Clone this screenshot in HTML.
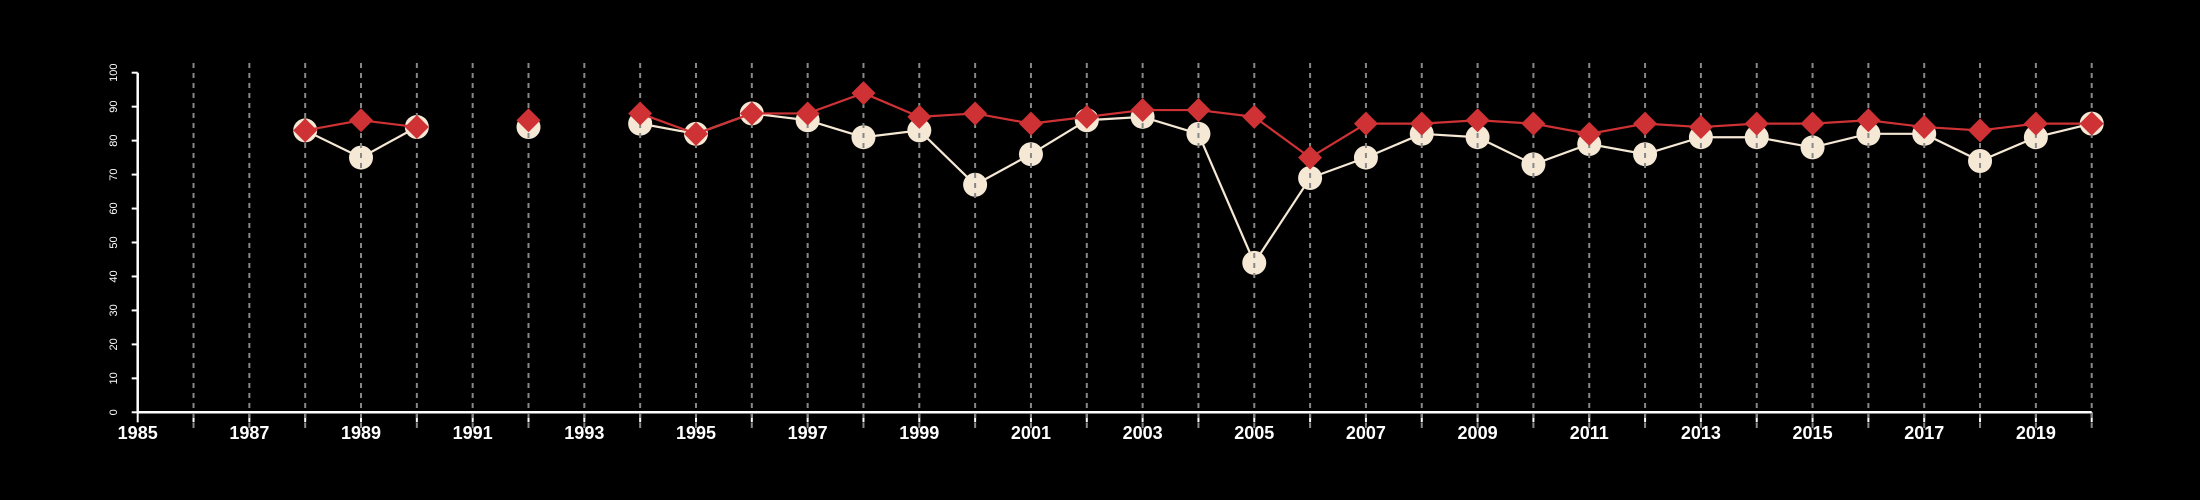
<!DOCTYPE html>
<html><head><meta charset="utf-8"><style>
html,body{margin:0;padding:0;background:#000;}
svg{display:block;font-family:"Liberation Sans",sans-serif;}
</style></head><body>
<svg id="chart" width="2200" height="500" viewBox="0 0 2200 500" xmlns="http://www.w3.org/2000/svg">
<rect width="2200" height="500" fill="#000"/>
<g id="axes"></g><g id="white"></g><g id="grid"></g><g id="red"></g>
</svg>
<script>
const years = [1988,1989,1990,1991,1992,1993,1994,1995,1996,1997,1998,1999,2000,2001,2002,2003,2004,2005,2006,2007,2008,2009,2010,2011,2012,2013,2014,2015,2016,2017,2018,2019,2020];
const whiteValues = [83,75,84,null,84,null,85,82,88,86,81,83,67,76,86,87,82,44,69,75,82,81,73,79,76,81,81,78,82,82,74,81,85];
const redValues = [83,86,84,null,86,null,88,82,88,88,94,87,88,85,87,89,89,87,75,85,85,86,85,82,85,84,85,85,86,84,83,85,85];
const yTicks = [0,10,20,30,40,50,60,70,80,90,100];
const xTickLabels = [1985,1987,1989,1991,1993,1995,1997,1999,2001,2003,2005,2007,2009,2011,2013,2015,2017,2019];
const xMin=1985,xMax=2020,yMin=0,yMax=100;
const px0=137.7,px1=2091.7,py0=412.3,py1=72.7;
const X=v=>px0+(v-xMin)/(xMax-xMin)*(px1-px0);
const Y=v=>py0+(v-yMin)/(yMax-yMin)*(py1-py0);
const NS="http://www.w3.org/2000/svg";
function mk(tag,attrs,parent){const e=document.createElementNS(NS,tag);for(const k in attrs)e.setAttribute(k,attrs[k]);parent.appendChild(e);return e;}
const axes=document.getElementById('axes'),grid=document.getElementById('grid'),wg=document.getElementById('white'),rg=document.getElementById('red');
// axes
let a=mk('line',{x1:px0,y1:py0,x2:px1,y2:py0,stroke:'#fff','stroke-width':2.5},axes);


a=mk('line',{x1:px0,y1:py0,x2:px0,y2:py1,stroke:'#fff','stroke-width':2.5},axes);


yTicks.forEach(t=>{
  const y=Y(t);
  const l=mk('line',{x1:px0-6,y1:y,x2:px0,y2:y,stroke:'#fff','stroke-width':2},axes);
  
  
  const tx=mk('text',{x:0,y:0,transform:`translate(117,${y}) rotate(-90)`,fill:'#fff','font-size':11,'text-anchor':'middle'},axes);
  tx.textContent=t;
  
  
});
for(let yr=xMin;yr<=xMax;yr++){
  const x=X(yr);
  const l=mk('line',{x1:x,y1:py0,x2:x,y2:py0+10,stroke:'#fff','stroke-width':2},axes);
  
  
  if(yr>xMin){
    const g=mk('line',{x1:x,y1:63,x2:x,y2:428,stroke:'#888','stroke-width':2,'stroke-dasharray':'5,5'},grid);
    
    
  }
}
xTickLabels.forEach(yr=>{
  const t=mk('text',{x:X(yr),y:439,fill:'#fff','font-size':18,'font-weight':'bold','text-anchor':'middle'},axes);
  t.textContent=yr;
  
  
});
function drawLine(vals,color,parent,name){
  let seg=[];
  const flush=()=>{if(seg.length>1){const p=mk('polyline',{points:seg.join(' '),fill:'none',stroke:color,'stroke-width':2.2},parent);}seg=[];};
  vals.forEach((v,i)=>{if(v==null)flush();else seg.push(X(years[i])+','+Y(v));});
  flush();
}
drawLine(whiteValues,'#f5e8d5',wg,'series-b-line');
whiteValues.forEach((v,i)=>{if(v==null)return;
  const c=mk('circle',{cx:X(years[i]),cy:Y(v),r:12,fill:'#f5e8d5'},wg);
  
  
});
drawLine(redValues,'#cf3234',rg,'series-a-line');
redValues.forEach((v,i)=>{if(v==null)return;
  const x=X(years[i]),y=Y(v),s=12;
  const d=mk('polygon',{points:`${x},${y-s} ${x+s},${y} ${x},${y+s} ${x-s},${y}`,fill:'#cf3234'},rg);
  
  
});
</script>
</body></html>
